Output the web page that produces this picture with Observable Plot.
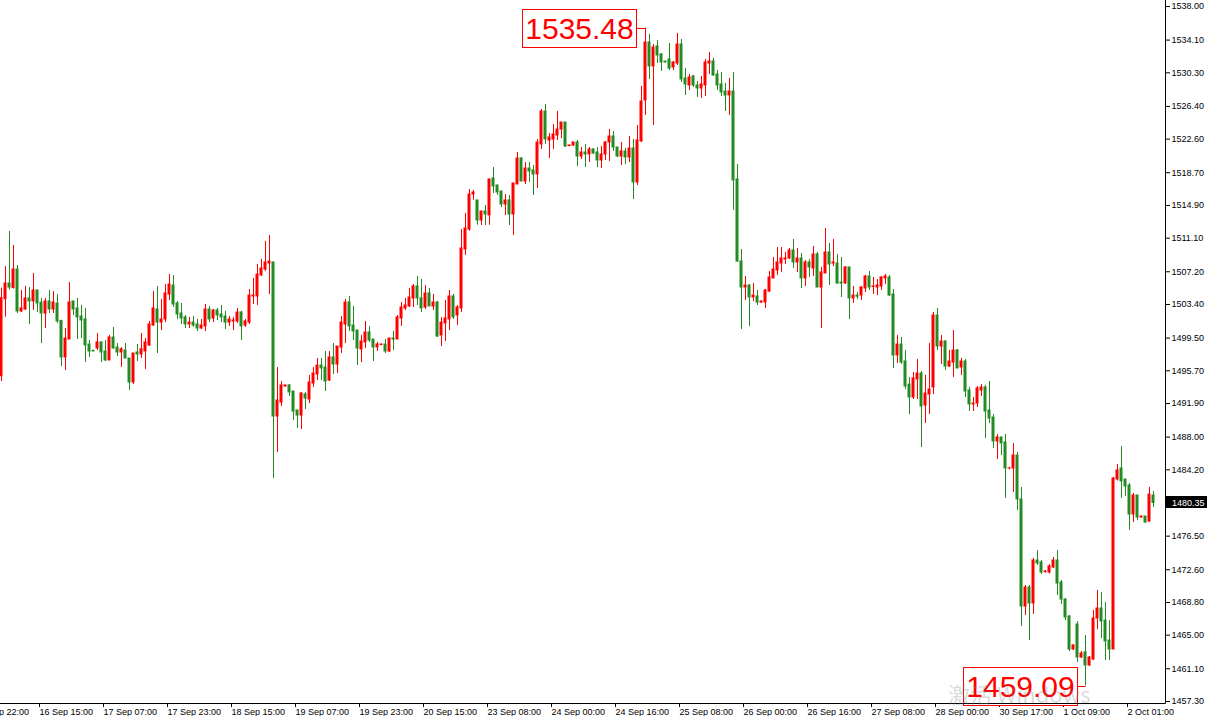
<!DOCTYPE html>
<html><head><meta charset="utf-8">
<script src="https://cdn.jsdelivr.net/npm/d3@7"></script>
<script src="https://cdn.jsdelivr.net/npm/@observablehq/plot@0.6"></script>
<style>
html,body{margin:0;padding:0;background:#fff;overflow:hidden}
#chart{position:relative;width:1207px;height:716px}
</style></head><body><div id="chart"></div>
<script>
const open=[
1495.08,1504.02,1505.84,1505.30,1507.46,1502.59,1502.82,1504.10,1503.75,1505.03,
1503.60,1502.35,1503.75,1502.82,1503.50,1501.50,1497.25,1499.33,1503.75,1502.94,
1502.00,1501.66,1498.75,1498.00,1498.30,1499.00,1497.94,1496.90,1499.57,1498.40,
1497.83,1498.06,1497.13,1494.34,1497.83,1497.60,1497.94,1498.64,1500.96,1502.82,
1501.30,1501.66,1504.56,1505.60,1503.52,1502.35,1501.90,1501.08,1501.30,1501.08,
1500.61,1500.85,1502.82,1501.78,1502.70,1502.24,1502.00,1501.30,1501.43,1501.43,
1502.47,1500.96,1501.30,1504.33,1504.33,1506.77,1507.46,1508.16,1508.28,1490.39,
1492.02,1493.88,1494.00,1493.30,1491.09,1490.50,1492.95,1492.37,1494.22,1495.27,
1496.31,1496.08,1494.57,1497.25,1496.43,1498.41,1501.08,1503.63,1500.96,1500.38,
1498.17,1498.99,1500.15,1499.33,1498.41,1498.70,1498.75,1497.94,1499.45,1499.33,
1501.78,1502.94,1503.17,1504.10,1505.49,1504.10,1503.05,1504.68,1503.17,1503.63,
1499.80,1501.20,1501.66,1504.33,1502.12,1502.94,1509.79,1512.10,1516.17,1515.48,
1513.15,1514.20,1513.74,1518.04,1517.22,1516.52,1515.01,1515.48,1513.85,1517.33,
1520.35,1517.68,1519.19,1518.96,1518.50,1521.98,1525.81,1522.44,1522.56,1523.02,
1523.72,1524.53,1521.80,1521.86,1522.21,1520.58,1521.05,1520.82,1521.40,1521.05,
1520.12,1520.82,1522.21,1522.91,1521.63,1520.58,1521.17,1520.47,1521.51,1517.57,
1522.33,1527.09,1533.82,1531.04,1533.36,1532.43,1531.60,1531.85,1530.92,1531.38,
1533.59,1529.64,1528.83,1529.88,1528.83,1528.48,1528.83,1531.38,1531.62,1530.11,
1528.95,1528.13,1527.67,1528.13,1517.92,1508.39,1505.37,1505.60,1504.21,1504.33,
1503.63,1503.63,1504.91,1506.42,1507.35,1508.16,1508.63,1508.74,1509.67,1508.28,
1508.74,1506.42,1508.28,1507.58,1509.21,1505.37,1507.00,1509.44,1508.16,1508.16,
1505.95,1505.84,1507.70,1504.10,1504.44,1504.44,1505.26,1506.65,1505.43,1505.37,
1505.49,1506.42,1506.54,1504.56,1497.48,1498.75,1496.78,1494.10,1492.60,1494.69,
1495.38,1491.67,1492.95,1493.76,1502.12,1498.52,1499.10,1496.20,1496.66,1498.06,
1496.08,1496.78,1493.41,1491.79,1491.90,1493.41,1493.76,1491.09,1490.27,1487.49,
1487.96,1487.38,1484.36,1484.36,1485.86,1480.76,1468.33,1470.54,1468.68,1473.67,
1473.44,1472.34,1472.28,1472.86,1473.67,1471.12,1469.14,1467.17,1463.34,1466.24,
1462.41,1463.00,1461.48,1462.18,1466.94,1468.10,1466.70,1464.38,1463.34,1483.08,
1484.36,1483.08,1482.38,1479.01,1481.22,1478.66,1478.78,1478.20,1481.22];
const high=[
1505.30,1507.81,1511.88,1510.25,1507.93,1505.03,1505.50,1505.37,1507.00,1505.03,
1504.10,1504.10,1505.03,1504.90,1504.56,1501.50,1500.60,1505.95,1503.75,1504.10,
1503.30,1502.94,1499.22,1498.10,1500.03,1499.00,1499.22,1499.80,1500.73,1498.87,
1498.40,1498.87,1497.13,1497.71,1498.75,1500.03,1499.45,1501.43,1504.90,1505.50,
1503.98,1505.72,1506.88,1506.77,1503.75,1503.52,1502.12,1501.90,1502.00,1501.66,
1501.66,1503.40,1503.17,1502.82,1502.94,1503.28,1502.60,1502.00,1501.90,1502.94,
1502.60,1501.66,1505.14,1506.42,1508.04,1508.63,1510.72,1511.41,1508.28,1496.08,
1494.46,1494.00,1494.10,1493.30,1491.09,1493.18,1493.18,1495.16,1496.08,1497.13,
1497.13,1497.94,1497.94,1498.87,1498.52,1502.00,1503.98,1504.33,1503.17,1500.38,
1499.80,1501.43,1500.85,1499.33,1498.99,1498.80,1499.33,1499.45,1500.26,1502.12,
1503.63,1504.10,1505.26,1505.72,1506.65,1506.30,1505.60,1505.26,1504.56,1503.75,
1501.90,1503.86,1505.03,1504.56,1503.28,1512.10,1513.96,1516.75,1516.64,1515.48,
1514.20,1514.90,1517.92,1519.30,1517.22,1516.52,1516.17,1516.06,1517.45,1521.05,
1520.47,1519.89,1519.89,1519.54,1522.56,1526.04,1526.62,1523.26,1524.30,1525.81,
1524.53,1524.53,1521.90,1522.21,1522.44,1521.63,1521.98,1521.63,1521.51,1521.63,
1521.75,1522.33,1523.72,1523.49,1521.63,1522.21,1521.51,1522.91,1522.56,1524.18,
1528.71,1535.48,1534.75,1533.59,1534.05,1532.54,1531.65,1533.71,1531.62,1534.87,
1534.17,1530.80,1530.11,1529.99,1529.30,1529.88,1531.85,1532.66,1531.97,1530.57,
1530.34,1529.06,1529.64,1530.34,1519.66,1509.79,1506.65,1505.72,1505.84,1505.03,
1503.80,1505.14,1507.23,1508.86,1510.02,1510.02,1509.44,1509.90,1510.95,1509.90,
1509.32,1508.51,1508.63,1510.14,1509.44,1507.70,1512.22,1510.49,1510.95,1509.21,
1508.86,1507.80,1507.70,1505.49,1504.80,1505.49,1506.77,1507.23,1506.54,1506.30,
1506.65,1506.88,1506.77,1505.14,1499.80,1499.57,1498.06,1494.92,1495.50,1497.01,
1495.62,1495.16,1498.87,1502.47,1502.94,1499.80,1499.22,1498.06,1500.38,1498.17,
1497.13,1497.01,1493.76,1492.60,1493.88,1494.10,1494.00,1494.46,1490.62,1488.30,
1487.96,1488.30,1484.50,1487.26,1486.20,1482.15,1470.77,1470.77,1473.91,1474.83,
1473.67,1472.50,1473.20,1474.02,1474.83,1471.35,1469.26,1467.29,1463.92,1466.59,
1463.11,1464.96,1462.53,1467.87,1470.19,1469.96,1468.80,1466.70,1483.31,1484.82,
1486.91,1483.08,1482.62,1481.45,1481.22,1478.80,1478.78,1482.15,1481.68];
const low=[
1494.46,1501.92,1505.06,1505.20,1502.35,1502.47,1502.70,1501.08,1502.70,1502.47,
1498.87,1500.61,1502.35,1502.35,1501.20,1496.20,1495.74,1499.33,1502.10,1499.33,
1499.45,1496.66,1497.25,1497.90,1498.06,1496.66,1496.78,1496.90,1498.20,1497.36,
1496.10,1497.13,1493.41,1494.10,1496.78,1497.13,1495.85,1498.52,1500.85,1497.71,
1500.38,1501.30,1503.86,1503.05,1501.66,1501.08,1500.61,1500.60,1500.73,1500.26,
1500.50,1500.26,1501.30,1501.30,1501.54,1501.30,1500.50,1500.85,1500.38,1501.20,
1499.22,1500.73,1501.08,1503.40,1503.28,1506.65,1507.23,1504.56,1483.20,1486.20,
1491.55,1493.80,1492.72,1489.93,1489.00,1488.88,1491.20,1491.90,1493.76,1494.57,
1494.57,1493.30,1494.46,1495.27,1495.38,1497.71,1498.87,1500.26,1499.22,1496.31,
1496.66,1498.29,1498.99,1496.78,1497.94,1498.60,1497.71,1497.83,1498.06,1499.33,
1500.85,1502.70,1503.05,1503.05,1503.28,1502.47,1502.82,1503.17,1502.70,1499.57,
1498.52,1499.10,1500.38,1501.66,1500.96,1502.47,1509.10,1511.90,1515.50,1512.60,
1512.57,1512.57,1512.60,1516.29,1516.06,1514.66,1513.74,1512.57,1511.41,1517.33,
1517.68,1517.33,1517.57,1516.06,1516.87,1521.40,1521.98,1520.35,1521.40,1522.44,
1522.67,1521.63,1521.70,1521.75,1519.42,1520.24,1519.31,1519.89,1520.82,1519.31,
1519.19,1520.12,1520.00,1521.17,1520.47,1519.54,1519.66,1519.89,1515.59,1517.22,
1522.20,1525.35,1529.53,1524.18,1531.38,1530.46,1531.45,1530.57,1530.57,1531.15,
1529.18,1527.67,1528.25,1528.60,1527.44,1527.32,1527.55,1530.11,1529.88,1528.25,
1527.55,1525.81,1525.35,1514.31,1508.28,1500.50,1503.86,1500.85,1503.75,1503.28,
1503.55,1502.94,1504.79,1506.42,1506.77,1507.12,1508.04,1508.63,1507.58,1507.12,
1505.26,1505.49,1506.54,1506.65,1505.37,1500.61,1507.00,1505.60,1507.81,1505.72,
1504.21,1505.72,1501.66,1503.52,1504.00,1503.86,1504.79,1505.03,1504.56,1504.44,
1505.03,1505.72,1504.33,1495.97,1496.55,1496.43,1493.53,1490.62,1492.37,1492.37,
1486.80,1489.58,1490.62,1492.95,1498.06,1496.43,1495.74,1496.08,1494.92,1495.97,
1495.16,1492.60,1490.97,1490.97,1491.44,1492.72,1487.84,1489.58,1486.68,1485.40,
1485.86,1480.87,1484.20,1481.57,1479.48,1466.00,1467.29,1464.38,1467.40,1473.10,
1472.05,1472.20,1472.10,1472.75,1469.61,1468.56,1466.70,1463.11,1463.22,1461.83,
1462.30,1459.09,1461.37,1462.06,1465.66,1464.61,1462.06,1462.06,1463.34,1482.90,
1480.87,1481.10,1477.16,1478.09,1478.30,1478.60,1477.97,1478.09,1479.83];
const close=[
1504.13,1505.84,1505.37,1507.46,1502.59,1502.94,1504.10,1503.75,1505.03,1503.52,
1502.35,1503.75,1502.82,1503.63,1501.43,1497.25,1499.45,1503.63,1502.82,1501.90,
1501.54,1498.64,1497.94,1497.95,1499.00,1497.83,1496.90,1499.57,1498.30,1497.83,
1498.20,1497.13,1494.34,1497.71,1497.60,1498.20,1499.00,1501.08,1502.94,1501.30,
1501.66,1504.68,1505.72,1503.40,1502.24,1501.78,1501.08,1501.30,1500.96,1500.61,
1500.96,1502.82,1501.66,1502.70,1502.12,1501.90,1501.30,1501.66,1501.54,1502.47,
1500.85,1501.43,1504.44,1504.44,1506.88,1507.58,1508.28,1508.39,1490.39,1492.25,
1494.00,1494.00,1493.18,1490.97,1490.50,1493.06,1492.48,1494.34,1495.38,1496.31,
1495.97,1494.46,1497.25,1496.43,1498.52,1501.30,1503.63,1500.85,1500.26,1498.29,
1499.10,1500.15,1499.22,1498.41,1498.75,1498.75,1497.94,1499.45,1499.33,1501.90,
1503.05,1503.28,1504.21,1505.49,1504.10,1502.94,1504.68,1503.17,1503.63,1499.68,
1501.30,1501.78,1504.33,1501.90,1503.05,1509.90,1512.22,1516.17,1516.40,1513.15,
1514.20,1513.85,1517.92,1517.10,1516.41,1515.01,1515.48,1513.85,1517.45,1520.35,
1517.68,1519.19,1518.84,1518.50,1522.21,1525.81,1522.56,1522.79,1523.14,1523.72,
1524.53,1521.75,1521.86,1522.21,1520.58,1521.05,1520.82,1521.40,1520.93,1520.12,
1520.82,1522.21,1522.91,1521.63,1520.58,1521.17,1520.47,1521.51,1517.57,1522.44,
1526.97,1533.82,1531.04,1533.24,1532.31,1531.50,1531.50,1530.80,1531.50,1533.59,
1529.53,1528.95,1529.76,1528.83,1528.48,1528.95,1531.50,1531.62,1529.99,1528.83,
1528.02,1527.67,1528.13,1517.80,1508.39,1505.37,1505.60,1504.21,1504.44,1503.63,
1503.75,1505.03,1506.54,1507.46,1508.28,1508.74,1508.74,1509.67,1508.28,1508.74,
1506.42,1508.28,1507.70,1509.21,1505.37,1507.12,1509.44,1508.04,1508.28,1505.84,
1505.84,1507.70,1504.10,1504.44,1504.30,1505.37,1506.65,1505.37,1505.49,1505.60,
1506.54,1506.65,1504.44,1497.48,1498.75,1496.66,1493.88,1492.60,1494.80,1495.38,
1491.55,1493.06,1493.53,1502.12,1498.52,1499.10,1496.20,1496.78,1498.06,1495.97,
1496.78,1493.30,1491.79,1491.90,1493.65,1493.76,1490.97,1490.16,1487.49,1487.96,
1487.26,1484.36,1484.36,1485.86,1480.76,1468.33,1470.54,1468.68,1473.67,1473.33,
1472.28,1472.40,1472.98,1473.67,1471.00,1469.14,1467.05,1463.34,1463.80,1462.41,
1462.87,1461.48,1462.41,1466.94,1468.10,1466.59,1464.27,1463.34,1483.20,1484.13,
1482.85,1482.27,1479.01,1481.22,1478.66,1478.78,1478.09,1481.33,1480.35];

const tickBars=[-7,9,25,41,57,73,89,105,121,137,153,169,185,201,217,233,249,265,281];
const tickLabels=["15 Sep 22:00","16 Sep 15:00","17 Sep 07:00","17 Sep 23:00","18 Sep 15:00","19 Sep 07:00","19 Sep 23:00","20 Sep 15:00","23 Sep 08:00","24 Sep 00:00","24 Sep 16:00","25 Sep 08:00","26 Sep 00:00","26 Sep 16:00","27 Sep 08:00","28 Sep 00:00","30 Sep 17:00","1 Oct 09:00","2 Oct 01:00"];
const priceTicks=[1538.00,1534.10,1530.30,1526.40,1522.60,1518.70,1514.90,1511.10,1507.20,1503.40,1499.50,1495.70,1491.90,1488.00,1484.20,1476.50,1472.60,1468.80,1465.00,1461.10,1457.30];
const lastPrice=1480.35;
const highBar=161, highPrice=1535.48;
const lowBar=271, lowPrice=1459.09;

const RED="#ff0000", GREEN="#228b22";
const bars=close.map((c,i)=>({i,o:open[i],h:high[i],l:low[i],c,col:c>=open[i]?RED:GREEN}));
const FONT="'Liberation Sans', Arial, sans-serif";
const W=1207,H=716,MR=42,MB=13;

const plot=Plot.plot({
  width:W,height:H,marginLeft:0,marginRight:MR,marginTop:0,marginBottom:MB,
  style:{background:"#fff",fontFamily:FONT,fontSize:"9px",color:"#000",overflow:"visible"},
  color:{type:"identity"},
  x:{domain:[0,bars.length-1],range:[1,1+4*(bars.length-1)]},
  y:{domain:[1457.3,1538],range:[701,6]},
  marks:[
    Plot.ruleX(bars,{x:"i",y1:"l",y2:"h",stroke:"col",strokeWidth:1}),
    Plot.rect(bars,{x1:d=>d.i-0.375,x2:d=>d.i+0.375,y1:d=>Math.min(d.o,d.c),y2:d=>Math.max(d.o,d.c),fill:"col",insetTop:-0.5,insetBottom:-0.5}),
    Plot.axisX({ticks:tickBars,tickFormat:d=>tickLabels[tickBars.indexOf(d)],anchor:"bottom",tickSize:4,tickPadding:1,textAnchor:"start",dx:2,fontSize:9,label:null,fill:"#000",stroke:"#000"}),
    Plot.axisY({ticks:priceTicks,tickFormat:d=>d.toFixed(2),anchor:"right",tickSize:4,tickPadding:2,fontSize:9,label:null,fill:"#000",stroke:"#000"})
  ]
});
document.getElementById("chart").appendChild(plot);

const xs=plot.scale("x"), ys=plot.scale("y");
const svg=d3.select(plot);
const g=svg.append("g").attr("text-anchor","start");
const fr=W-MR+0.5, fb=H-MB+0.5;
function annotate(i,v,gap){
  const px=xs.apply(i)+0.5, py=Math.round(ys.apply(v))+0.5;
  const bw=114,bh=38,right=Math.round(px-gap)+0.5;
  g.append("line").attr("x1",right).attr("x2",px).attr("y1",py).attr("y2",py).attr("stroke",RED);
  g.append("rect").attr("x",right-bw).attr("y",py-bh/2).attr("width",bw).attr("height",bh).attr("fill","#fff").attr("stroke",RED);
  g.append("text").attr("x",right-bw/2).attr("y",py+10.7).attr("text-anchor","middle")
   .attr("font-family",FONT).attr("font-size",30).attr("fill",RED).text(v.toFixed(2));
}
annotate(highBar,highPrice,10);
annotate(lowBar,lowPrice,9);
g.append("line").attr("x1",fr).attr("x2",fr).attr("y1",0).attr("y2",fb).attr("stroke","#000");
g.append("line").attr("x1",0).attr("x2",fr).attr("y1",fb).attr("y2",fb).attr("stroke","#000");
// current price label
const cy=ys.apply(lastPrice);
g.append("rect").attr("x",W-MR+1).attr("y",Math.round(cy)-6).attr("width",MR-1).attr("height",12).attr("fill","#000");
g.append("text").attr("x",W-MR+7).attr("y",cy+3.3).attr("text-anchor","start").attr("font-family",FONT).attr("font-size",9).attr("fill","#fff").text(lastPrice.toFixed(2));
// OS watermark
g.append("text").attr("x",948).attr("y",703).attr("text-anchor","start").attr("font-family","'Noto Sans CJK SC', 'Noto Sans', sans-serif")
 .attr("font-size",22).attr("fill","#808080").attr("fill-opacity",0.3).text("激活 Windows");
</script></body></html>
